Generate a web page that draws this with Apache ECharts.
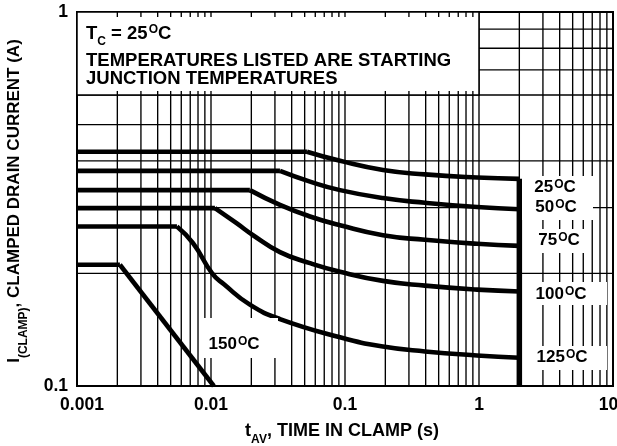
<!DOCTYPE html>
<html><head><meta charset="utf-8">
<script src="https://cdn.jsdelivr.net/npm/echarts@6/dist/echarts.min.js"></script>
<style>html,body{margin:0;padding:0;background:#fff}#c{width:617px;height:446px}</style>
</head><body><div id="c"></div>
<script>
// ---- data ----
const xTickLabels = ['0.001', '0.01', '0.1', '1', '10'];
const yTickLabels = ['0.1', '1'];
const curveNames = ['25', '50', '75', '100', '125', '150'];
// each curve: flat part up to the break (first two points), then the decay
const t25 = [0.001, 0.052, 0.0918, 0.192, 0.395, 0.966, 2];
const i25 = [0.423, 0.423, 0.400, 0.378, 0.368, 0.361, 0.358];
const t50 = [0.001, 0.0327, 0.0548, 0.0918, 0.192, 0.395, 0.966, 2];
const i50 = [0.376, 0.376, 0.352, 0.334, 0.318, 0.309, 0.301, 0.297];
const t75 = [0.001, 0.0195, 0.0327, 0.0548, 0.0918, 0.192, 0.395, 0.966, 2];
const i75 = [0.334, 0.334, 0.305, 0.284, 0.269, 0.253, 0.246, 0.240, 0.237];
const t100 = [0.001, 0.0107, 0.0156, 0.0206, 0.0327, 0.0548, 0.0918, 0.192, 0.395, 0.966, 2];
const i100 = [0.299, 0.299, 0.272, 0.253, 0.228, 0.213, 0.202, 0.191, 0.1855, 0.181, 0.179];
const t125 = [0.001, 0.00557, 0.00734, 0.0102, 0.0125, 0.0195, 0.0327, 0.0918, 0.192, 0.395, 0.966, 2];
const i125 = [0.267, 0.267, 0.241, 0.200, 0.187, 0.165, 0.151, 0.135, 0.1275, 0.1237, 0.1207, 0.119];
const t150 = [0.001, 0.00209, 0.0105];
const i150 = [0.211, 0.211, 0.100];
const tLimit = [2, 2];
const iLimit = [0.358, 0.1];
const gridMult = [1, 2, 3, 4, 5, 6, 7, 8, 9];
const gridDecadesX = [0.001, 0.01, 0.1, 1];
const gridY = [0.2, 0.3, 0.4, 0.5, 0.6, 0.7, 0.8, 0.9];

// ---- chart ----
const FF = '"Liberation Sans", Arial, Helvetica, sans-serif';
const FS = 17;
const gridX = [];
gridDecadesX.forEach(d => gridMult.forEach(m => gridX.push(+(m * d).toPrecision(3))));
const zip = (a, b) => a.map((v, i) => [v, b[i]]);

const mk = fs => ({
  n: {fontFamily: FF, fontWeight: 'bold', fontSize: fs, lineHeight: 20, verticalAlign: 'top', color: '#000'},
  sub: {fontFamily: FF, fontWeight: 'bold', fontSize: 12, lineHeight: 12, verticalAlign: 'top', padding: [12, 0, 0, 0], color: '#000'},
  sup: {fontFamily: FF, fontWeight: 'bold', fontSize: 12, lineHeight: 12, verticalAlign: 'top', padding: [0, 0, 0, 1], color: '#000'}
});
const rich = mk(FS);
const richBox = mk(18.5);
const richX = mk(18);
const degLabel = n => `{n|${n}}{sup|O}{n|C}`;

const chart = echarts.init(document.getElementById('c'), null, {renderer: 'canvas'});
const curveStyle = {color: '#000', width: 4.6};
const curves = [[t25, i25], [t50, i50], [t75, i75], [t100, i100], [t125, i125], [t150, i150]];

const series = [
  {
    type: 'custom', z: 1, silent: true, clip: false,
    data: gridX.map(x => [x, 1]),
    renderItem: (p, api) => {
      const a = api.coord([api.value(0), 1]), b = api.coord([api.value(0), 0.1]);
      return {type: 'line', shape: {x1: a[0], y1: a[1], x2: b[0], y2: b[1]}, style: {stroke: '#000', lineWidth: 1.35}};
    }
  },
  {
    type: 'custom', z: 1, silent: true, clip: false,
    data: gridY.map(y => [0.001, y]),
    renderItem: (p, api) => {
      const a = api.coord([0.001, api.value(1)]), b = api.coord([10, api.value(1)]);
      return {type: 'line', shape: {x1: a[0], y1: a[1], x2: b[0], y2: b[1]}, style: {stroke: '#000', lineWidth: 1.35}};
    }
  },
  {
    // note box in upper-left
    type: 'custom', z: 2, silent: true, clip: false,
    data: [[0.001, 1]],
    renderItem: (p, api) => {
      const a = api.coord([0.001, 1]), b = api.coord([1, 0.6]);
      const children = [{type: 'rect', shape: {x: a[0], y: a[1], width: b[0] - a[0], height: b[1] - a[1]},
        style: {fill: '#fff', stroke: '#000', lineWidth: 1.5}}];
      gridX.filter(x => x > 0.001 && x < 1).forEach(x => {
        const c = api.coord([x, 1])[0];
        children.push({type: 'line', shape: {x1: c, y1: a[1], x2: c, y2: a[1] + 5}, style: {stroke: '#000', lineWidth: 1.35}});
        children.push({type: 'line', shape: {x1: c, y1: b[1], x2: c, y2: b[1] - 4}, style: {stroke: '#000', lineWidth: 1.35}});
      });
      return {type: 'group', children};
    }
  }
];
curves.forEach((c, k) => {
  const pts = zip(c[0], c[1]);
  series.push({
    type: 'line', name: curveNames[k] + '°C flat', z: 5, data: pts.slice(0, 2), symbol: 'none',
    clip: false, lineStyle: curveStyle, silent: true
  });
  series.push({
    type: 'line', name: curveNames[k] + '°C', z: 5, data: pts.slice(1), symbol: 'none',
    smooth: k === 5 ? false : 0.5, clip: false, lineStyle: curveStyle, silent: true
  });
});
series.push({
  type: 'line', z: 5, data: zip(tLimit, iLimit), symbol: 'none', clip: false, silent: true,
  lineStyle: {color: '#000', width: 5.5}
});

chart.setOption({
  animation: false,
  backgroundColor: '#fff',
  grid: {left: 77, top: 12, right: 4, bottom: 60, outerBoundsMode: 'none', containLabel: false,
    show: true, borderColor: '#000', borderWidth: 2, backgroundColor: 'transparent'},
  xAxis: {
    type: 'log', logBase: 10, min: 0.001, max: 10,
    axisLine: {show: true, lineStyle: {color: '#000', width: 2}},
    axisTick: {show: false}, splitLine: {show: false}, minorTick: {show: false},
    axisLabel: {color: '#000', fontFamily: FF, fontWeight: 'bold', fontSize: 17.5, margin: 10,
      formatter: v => {
        const i = Math.round(Math.log10(v)) + 3;
        if (i === 0) return '{l|' + xTickLabels[i] + '}';
        if (i === xTickLabels.length - 1) return '{r|' + xTickLabels[i] + '}';
        return xTickLabels[i];
      },
      rich: {
        l: {fontFamily: FF, fontWeight: 'bold', fontSize: 17.5, color: '#000', padding: [0, 0, 0, 10]},
        r: {fontFamily: FF, fontWeight: 'bold', fontSize: 17.5, color: '#000', padding: [0, 9, 0, 0]}
      }}
  },
  yAxis: {
    type: 'log', logBase: 10, min: 0.1, max: 1,
    axisLine: {show: true, lineStyle: {color: '#000', width: 2}},
    axisTick: {show: false}, splitLine: {show: false}, minorTick: {show: false},
    axisLabel: {color: '#000', fontFamily: FF, fontWeight: 'bold', fontSize: 17.5, margin: 9,
      formatter: v => yTickLabels[Math.round(Math.log10(v)) + 1]}
  },
  series,
  graphic: [
    // note text
    {type: 'text', z: 50, left: 86, top: 24, style: {text: '{n|T}{sub|C}{n| = 25}{sup|O}{n|C}', rich: richBox}},
    {type: 'text', z: 50, left: 86, top: 51, style: {text: 'TEMPERATURES LISTED ARE STARTING', font: `bold 18.5px ${FF}`, fill: '#000'}},
    {type: 'text', z: 50, left: 86, top: 69, style: {text: 'JUNCTION TEMPERATURES', font: `bold 18.5px ${FF}`, fill: '#000'}},
    // white areas behind curve labels
    {type: 'rect', z: 40, shape: {x: 522, y: 176, width: 71, height: 44}, style: {fill: '#fff'}},
    {type: 'rect', z: 40, shape: {x: 533, y: 229, width: 58, height: 24}, style: {fill: '#fff'}},
    {type: 'rect', z: 40, shape: {x: 525, y: 282, width: 82, height: 23}, style: {fill: '#fff'}},
    {type: 'rect', z: 40, shape: {x: 525, y: 346, width: 82, height: 24}, style: {fill: '#fff'}},
    {type: 'rect', z: 40, shape: {x: 202, y: 318, width: 76, height: 40}, style: {fill: '#fff'}},
    // curve labels
    {type: 'text', z: 50, x: 555, y: 189, style: {text: degLabel(curveNames[0]), rich, align: 'center', verticalAlign: 'middle'}},
    {type: 'text', z: 50, x: 556, y: 209, style: {text: degLabel(curveNames[1]), rich, align: 'center', verticalAlign: 'middle'}},
    {type: 'text', z: 50, x: 559, y: 242, style: {text: degLabel(curveNames[2]), rich, align: 'center', verticalAlign: 'middle'}},
    {type: 'text', z: 50, x: 561, y: 296, style: {text: degLabel(curveNames[3]), rich, align: 'center', verticalAlign: 'middle'}},
    {type: 'text', z: 50, x: 562, y: 359, style: {text: degLabel(curveNames[4]), rich, align: 'center', verticalAlign: 'middle'}},
    {type: 'text', z: 50, x: 234, y: 346, style: {text: degLabel(curveNames[5]), rich, align: 'center', verticalAlign: 'middle'}},
    // axis titles
    {type: 'text', z: 50, x: 342, y: 432, style: {text: '{n|t}{sub|AV}{n|, TIME IN CLAMP (s)}', rich: richX, align: 'center', verticalAlign: 'middle'}},
    {type: 'text', z: 50, x: 16, y: 201, rotation: Math.PI / 2, style: {text: '{n|I}{sub|(CLAMP)}{n|, CLAMPED DRAIN CURRENT (A)}', rich, align: 'center', verticalAlign: 'middle'}}
  ]
});
</script></body></html>
